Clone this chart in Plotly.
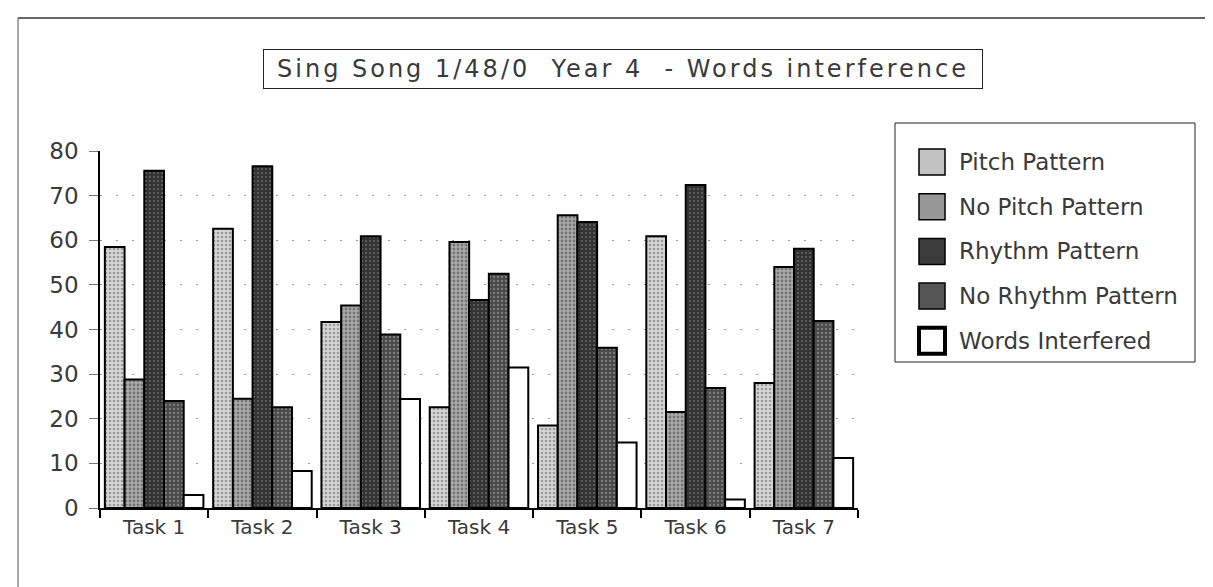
import plotly.graph_objects as go

# ---- data ----
tasks = ["Task 1", "Task 2", "Task 3", "Task 4", "Task 5", "Task 6", "Task 7"]
pitch_pattern = [58.5, 62.6, 41.7, 22.6, 18.5, 60.9, 28.0]
no_pitch_pattern = [28.8, 24.5, 45.4, 59.6, 65.6, 21.5, 54.0]
rhythm_pattern = [75.6, 76.6, 60.9, 46.6, 64.1, 72.4, 58.1]
no_rhythm_pattern = [24.0, 22.6, 38.9, 52.5, 35.9, 26.9, 41.9]
words_interfered = [2.9, 8.3, 24.4, 31.5, 14.7, 1.9, 11.2]
y_ticks = [0, 10, 20, 30, 40, 50, 60, 70, 80]
title_text = "Sing Song 1/48/0  Year 4  - Words interference"
series_names = ["Pitch Pattern", "No Pitch Pattern", "Rhythm Pattern",
                "No Rhythm Pattern", "Words Interfered"]
series_values = [pitch_pattern, no_pitch_pattern, rhythm_pattern,
                 no_rhythm_pattern, words_interfered]

# ---- styles ----
styles = [
    dict(bg="#d6d6d6", fg="#5e5e5e", sol=0.35, swatch="#c2c2c2"),
    dict(bg="#ababab", fg="#3e3e3e", sol=0.4, swatch="#979797"),
    dict(bg="#333333", fg="#a0a0a0", sol=0.2, swatch="#3c3c3c"),
    dict(bg="#4a4a4a", fg="#b0b0b0", sol=0.25, swatch="#555555"),
    None,
]

W, H = 1213, 587
L, R, T, B = 92, 363, 143, 87
PW = W - L - R
PH = H - T - B


def px2x(px):
    return (px - L) / PW


def px2y(py):
    return (H - B - py) / PH


FONT = "DejaVu Sans"
TXT = "#3a3a3a"

fig = go.Figure()
for name, vals, st in zip(series_names, series_values, styles):
    if st is None:
        marker = dict(color="white", line=dict(color="black", width=2))
    else:
        marker = dict(
            color=st["bg"],
            line=dict(color="black", width=2),
            pattern=dict(shape=".", fgcolor=st["fg"], bgcolor=st["bg"],
                         size=4, solidity=st["sol"], fillmode="overlay"),
        )
    fig.add_trace(go.Bar(x=tasks, y=vals, name=name, marker=marker,
                         showlegend=False))

shapes = [
    # outer frame (top and left edges)
    dict(type="line", xref="paper", yref="paper",
         x0=px2x(10), x1=px2x(1213), y0=px2y(10), y1=px2y(10),
         line=dict(color="#333", width=1.5)),
    dict(type="line", xref="paper", yref="paper",
         x0=px2x(10), x1=px2x(10), y0=px2y(10), y1=px2y(587),
         line=dict(color="#555", width=1)),
    # legend box
    dict(type="rect", xref="paper", yref="paper",
         x0=px2x(887), x1=px2x(1187), y0=px2y(115), y1=px2y(354),
         line=dict(color="#222", width=1), fillcolor="white", layer="below"),
]
annotations = [
    dict(
        text=f'<span style="letter-spacing:3px">{title_text}</span>',
        xref="paper", yref="paper",
        x=px2x(615), y=px2y(61), xanchor="center", yanchor="middle",
        showarrow=False, width=718, height=38,
        bordercolor="#222", borderwidth=1, borderpad=0, bgcolor="white",
        font=dict(size=24, family=FONT, color=TXT),
    )
]

# custom legend (large square swatches like the reference)
sw = 26
for i, (name, st) in enumerate(zip(series_names, styles)):
    cy = 154 + i * 44.7
    fill = "white" if st is None else st["swatch"]
    lw = 4 if st is None else 1.5
    shapes.append(dict(
        type="rect", xref="paper", yref="paper",
        x0=px2x(911), x1=px2x(911 + sw),
        y0=px2y(cy - sw / 2), y1=px2y(cy + sw / 2),
        line=dict(color="black", width=lw), fillcolor=fill,
    ))
    annotations.append(dict(
        text=name, xref="paper", yref="paper",
        x=px2x(949), y=px2y(cy), xanchor="left", yanchor="middle",
        showarrow=False, font=dict(size=23, family=FONT, color=TXT),
    ))

fig.update_layout(
    width=W, height=H,
    margin=dict(l=L, r=R, t=T, b=B, pad=0),
    paper_bgcolor="white", plot_bgcolor="white",
    barmode="group", bargap=0.09, bargroupgap=0.0,
    font=dict(family=FONT, color=TXT),
    showlegend=False,
    xaxis=dict(
        showline=True, linecolor="black", linewidth=2,
        ticks="outside", tickson="boundaries", ticklen=8, tickcolor="black",
        tickwidth=1.5,
        tickfont=dict(size=20, family=FONT, color=TXT),
        showgrid=False,
    ),
    yaxis=dict(
        range=[0, 80], tickvals=y_ticks, ticktext=[str(v) for v in y_ticks],
        showline=True, linecolor="black", linewidth=1.5,
        ticks="outside", ticklen=9, tickcolor="#777",
        ticklabelstandoff=6,
        tickfont=dict(size=23, family=FONT, color=TXT),
        showgrid=True, gridcolor="#9a9a9a", gridwidth=1, griddash="2px,14px",
        zeroline=False,
    ),
    annotations=annotations,
    shapes=shapes,
)

fig.write_html("out.html")
